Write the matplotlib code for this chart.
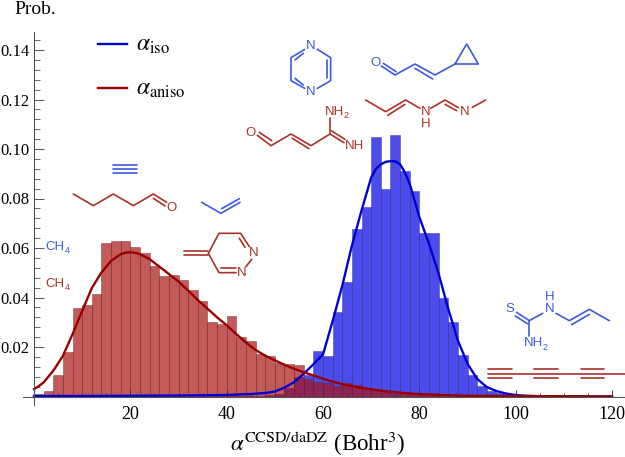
import numpy as np
import matplotlib

matplotlib.use("Agg")
import matplotlib.pyplot as plt
from matplotlib.ticker import MultipleLocator, FormatStrFormatter

plt.rcParams["font.family"] = ["Liberation Serif", "DejaVu Serif"]
plt.rcParams["mathtext.fontset"] = "stix"

BIN_WIDTH = 2
bin_left = np.arange(0, 120, BIN_WIDTH)

# bar heights, one per 2-unit bin starting at 0
iso_heights = [
    0.0001, 0.0001, 0.0001, 0.0001, 0.0001, 0.0001, 0.0001, 0.0001, 0.0001, 0.0001,
    0.0001, 0.0001, 0.0002, 0.0002, 0.0002, 0.0002, 0.0002, 0.0002, 0.0003, 0.0003,
    0.0003, 0.0004, 0.0004, 0.0004, 0.0005, 0.0012, 0.0034, 0.0079, 0.0085, 0.0184,
    0.0162, 0.0342, 0.0462, 0.0675, 0.0765, 0.1048, 0.0839, 0.1055, 0.0910, 0.0832,
    0.0660, 0.0660, 0.0400, 0.0302, 0.0167, 0.0085, 0.0044, 0.0024, 0.0016, 0.0010,
    0.0005, 0.0003, 0.0002, 0.0001, 0.0001, 0.0, 0.0, 0.0, 0.0, 0.0,
]
aniso_heights = [
    0.0010, 0.0022, 0.0088, 0.0178, 0.0358, 0.0369, 0.0413, 0.0622, 0.0628, 0.0628,
    0.0603, 0.0581, 0.0527, 0.0488, 0.0489, 0.0472, 0.0432, 0.0384, 0.0299, 0.0292,
    0.0327, 0.0242, 0.0223, 0.0172, 0.0162, 0.0137, 0.0131, 0.0127, 0.0070, 0.0057,
    0.0054, 0.0044, 0.0053, 0.0046, 0.0035, 0.0028, 0.0025, 0.0012, 0.0018, 0.0016,
    0.0012, 0.0010, 0.0008, 0.0006, 0.0005, 0.0004, 0.0003, 0.0003, 0.0002, 0.0002,
    0.0002, 0.0001, 0.0001, 0.0001, 0.0001, 0.0, 0.0, 0.0, 0.0, 0.0,
]

# fitted curves
iso_x = [0, 10, 20, 30, 40, 45, 48, 50, 52, 54, 56, 58, 60, 62, 64, 66, 68, 70, 71, 72, 73,
         74, 75, 76, 77, 78, 80, 82, 84, 86, 88, 90, 92, 94, 96, 98, 100, 102, 105, 120]
iso_y = [0.0002, 0.0002, 0.0003, 0.0004, 0.0006, 0.0010, 0.0014, 0.0020, 0.0036, 0.0058, 0.0092,
         0.0130, 0.0170, 0.0305, 0.0448, 0.0610, 0.0752, 0.0885, 0.0920, 0.0938, 0.0948,
         0.0951, 0.0950, 0.0938, 0.0905, 0.0859, 0.0725, 0.0617, 0.0496, 0.0354, 0.0226,
         0.0132, 0.0071, 0.0038, 0.0022, 0.0012, 0.0006, 0.0003, 0.0001, 0.0]
aniso_x = [0, 1, 2, 4, 6, 8, 10, 12, 14, 16, 18, 19, 20, 21, 22, 24, 26, 28, 30, 32, 34, 36, 38,
           40, 42, 44, 46, 48, 50, 52, 54, 56, 58, 60, 62, 64, 66, 68, 70, 74, 78, 82, 86,
           90, 100, 110, 120]
aniso_y = [0.0030, 0.0042, 0.0057, 0.0104, 0.0164, 0.0252, 0.0346, 0.0438, 0.0501, 0.0548,
           0.0575, 0.0581, 0.0583, 0.0580, 0.0575, 0.0555, 0.0525, 0.0495, 0.0464, 0.0428,
           0.0390, 0.0355, 0.0320, 0.0288, 0.0252, 0.0218, 0.0188, 0.0165, 0.0146, 0.0128,
           0.0112, 0.0098, 0.0085, 0.0072, 0.0060, 0.0050, 0.0042, 0.0035, 0.0029, 0.0019,
           0.0012, 0.0008, 0.0005, 0.0003, 0.0002, 0.0001, 0.0]

BLUE_FILL = "#0000e6"
RED_FILL = "#aa1414"
BLUE_LINE = "#0000d2"
RED_LINE = "#990000"
MOL_BLUE = "#3c5adc"
MOL_RED = "#a83228"

W, H = 625, 457


def px_segments(ax, segs, color, offset, scale=1 / 3, lw=1.2):
    # segments given in zoomed-crop coordinates, converted to pixels
    for seg in segs:
        xs = [offset[0] + p[0] * scale for p in seg]
        ys = [offset[1] + p[1] * scale for p in seg]
        ax.plot(xs, ys, color=color, lw=lw, solid_capstyle="round", solid_joinstyle="round")


def atom(ax, x, y, text, color, offset, sub=None, scale=1 / 3):
    px, py = offset[0] + x * scale, offset[1] + y * scale
    t = ax.text(px, py, text, color=color, family="Liberation Sans", fontsize=9.5,
                ha="center", va="center")
    if sub:
        bb = t.get_window_extent(ax.figure.canvas.get_renderer())
        ax.text(px + bb.width / 2, py + 4, sub, color=color,
                family="Liberation Sans", fontsize=6.5, ha="left", va="center")


def draw_molecules(ov):
    # pyrazine
    o = (240, 20)
    px_segments(ov, [[(232, 88), (272, 113), (272, 182), (232, 205)],
                     [(194, 88), (153, 113), (153, 182), (194, 205)],
                     [(260, 120), (260, 175)],
                     [(165, 120), (190, 100)],
                     [(165, 175), (190, 195)]], MOL_BLUE, o)
    atom(ov, 213, 78, "N", MOL_BLUE, o)
    atom(ov, 213, 216, "N", MOL_BLUE, o)
    # acrolein with cyclopropyl
    px_segments(ov, [[(424, 138), (465, 165), (525, 132), (585, 165), (645, 132)],
                     [(430, 130), (468, 155)],
                     [(525, 145), (578, 177)],
                     [(645, 132), (680, 72), (715, 132), (645, 132)]], MOL_BLUE, o)
    atom(ov, 407, 128, "O", MOL_BLUE, o)
    # red imine chain
    px_segments(ov, [[(377, 240), (437, 275), (497, 240), (540, 265)],
                     [(443, 286), (495, 253)],
                     [(572, 265), (615, 240), (655, 263)],
                     [(615, 253), (650, 272)],
                     [(697, 262), (737, 240)]], MOL_RED, o)
    atom(ov, 556, 275, "N", MOL_RED, o)
    atom(ov, 556, 312, "H", MOL_RED, o)
    atom(ov, 675, 276, "N", MOL_RED, o)
    # red amidine
    px_segments(ov, [[(52, 346), (93, 377), (153, 342), (213, 377), (270, 342), (312, 368)],
                     [(58, 337), (95, 362)],
                     [(157, 355), (207, 386)],
                     [(275, 333), (315, 358)],
                     [(270, 342), (270, 293)]], MOL_RED, o)
    atom(ov, 33, 339, "O", MOL_RED, o)
    atom(ov, 283, 275, "NH", MOL_RED, o, sub="2")
    atom(ov, 345, 378, "NH", MOL_RED, o)

    o = (0, 150)
    # triple bond above the aldehyde
    px_segments(ov, [[(340, 45), (410, 45)], [(340, 57), (410, 57)], [(340, 70), (410, 70)]],
                MOL_BLUE, o)
    # pentanal
    px_segments(ov, [[(220, 132), (280, 167), (340, 132), (400, 167), (460, 132), (500, 157)],
                     [(460, 145), (495, 168)]], MOL_RED, o)
    atom(ov, 515, 174, "O", MOL_RED, o)
    # propene
    px_segments(ov, [[(605, 157), (663, 190), (720, 157)], [(665, 176), (718, 146)]], MOL_BLUE, o)
    # methylene pyridazine
    px_segments(ov, [[(553, 303), (625, 303)], [(553, 316), (625, 316)],
                     [(625, 310), (657, 250), (722, 250), (748, 290)],
                     [(718, 265), (735, 292)],
                     [(755, 328), (738, 350)],
                     [(708, 368), (657, 368), (625, 310)],
                     [(664, 355), (708, 355)]], MOL_RED, o)
    atom(ov, 762, 310, "N", MOL_RED, o)
    atom(ov, 725, 370, "N", MOL_RED, o)
    atom(ov, 165, 290, "CH", MOL_BLUE, o, sub="4")
    atom(ov, 165, 402, "CH", MOL_RED, o, sub="4")

    o = (470, 280)
    # thiourea
    px_segments(ov, [[(140, 97), (178, 122), (218, 100)],
                     [(136, 108), (172, 131)],
                     [(178, 122), (178, 168)],
                     [(258, 100), (298, 122), (358, 88), (418, 122)],
                     [(305, 134), (358, 103)]], MOL_BLUE, o)
    atom(ov, 120, 88, "S", MOL_BLUE, o)
    atom(ov, 238, 87, "N", MOL_BLUE, o)
    atom(ov, 238, 50, "H", MOL_BLUE, o)
    atom(ov, 190, 190, "NH", MOL_BLUE, o, sub="2")
    # polyyne chain
    segs = [[(55, 282), (465, 282)]]
    for start in (55, 193, 332):
        segs.append([(start, 268), (start + 70, 268)])
        segs.append([(start, 295), (start + 70, 295)])
    px_segments(ov, segs, MOL_RED, o)


def main():
    fig = plt.figure(figsize=(W / 100, H / 100), dpi=100)

    # pixel box of the axes, spines cross at data zero
    left, right, top, bottom = 23, 625, 32, 405
    ax = fig.add_axes([left / W, 1 - bottom / H, (right - left) / W, (bottom - top) / H])
    ax.set_xlim((left - 34) / 4.817, (right - 34) / 4.817)
    ax.set_ylim((396.5 - bottom) / 2475, (396.5 - top) / 2475)

    ax.bar(bin_left, iso_heights, width=BIN_WIDTH, align="edge", color=BLUE_FILL, alpha=0.7,
           edgecolor="#2a2a80", linewidth=0.4)
    ax.bar(bin_left, aniso_heights, width=BIN_WIDTH, align="edge", color=RED_FILL, alpha=0.7,
           edgecolor="#602020", linewidth=0.4)
    ax.plot(iso_x, iso_y, color=BLUE_LINE, lw=1.7)
    ax.plot(aniso_x, aniso_y, color=RED_LINE, lw=1.7)

    for name in ("top", "right"):
        ax.spines[name].set_visible(False)
    for name in ("left", "bottom"):
        ax.spines[name].set_position(("data", 0))
        ax.spines[name].set_color("#555555")
        ax.spines[name].set_linewidth(0.8)

    ax.xaxis.set_minor_locator(MultipleLocator(5))
    ax.yaxis.set_minor_locator(MultipleLocator(0.004))
    ax.yaxis.set_major_formatter(FormatStrFormatter("%.2f"))
    ax.set_xticks([20, 40, 60, 80, 100, 120])
    ax.set_yticks([0.02, 0.04, 0.06, 0.08, 0.10, 0.12, 0.14])
    ax.tick_params(axis="x", which="major", direction="in", length=5, width=0.7, color="#333333",
                   labelsize=13, pad=7)
    ax.tick_params(axis="x", which="minor", direction="in", length=3, width=0.6, color="#333333")
    ax.tick_params(axis="y", which="major", direction="in", length=7.5, width=0.7, color="#555555",
                   labelsize=12, pad=3)
    ax.tick_params(axis="y", which="minor", direction="in", length=4.5, width=0.6, color="#555555")

    # overlay in pixel coordinates for labels, legend and molecule sketches
    ov = fig.add_axes([0, 0, 1, 1], facecolor="none")
    ov.set_xlim(0, W)
    ov.set_ylim(H, 0)
    ov.axis("off")

    ov.text(14, 13.5, "Prob.", fontsize=14, va="baseline", ha="left")
    ov.text(230, 451.5, r"$\alpha^{\mathrm{CCSD/daDZ}}$ (Bohr$^{3}$)", fontsize=16.5,
            va="baseline", ha="left")

    ov.plot([98, 127], [44.3, 44.3], color=BLUE_LINE, lw=1.7)
    ov.plot([98, 127], [88.3, 88.3], color=RED_LINE, lw=1.7)
    ov.text(135.5, 50.5, r"$\alpha_{\mathrm{iso}}$", fontsize=17, va="baseline", ha="left")
    ov.text(135.5, 94.5, r"$\alpha_{\mathrm{aniso}}$", fontsize=17, va="baseline", ha="left")

    draw_molecules(ov)

    fig.savefig("out.png", dpi=100)


if __name__ == "__main__":
    main()
